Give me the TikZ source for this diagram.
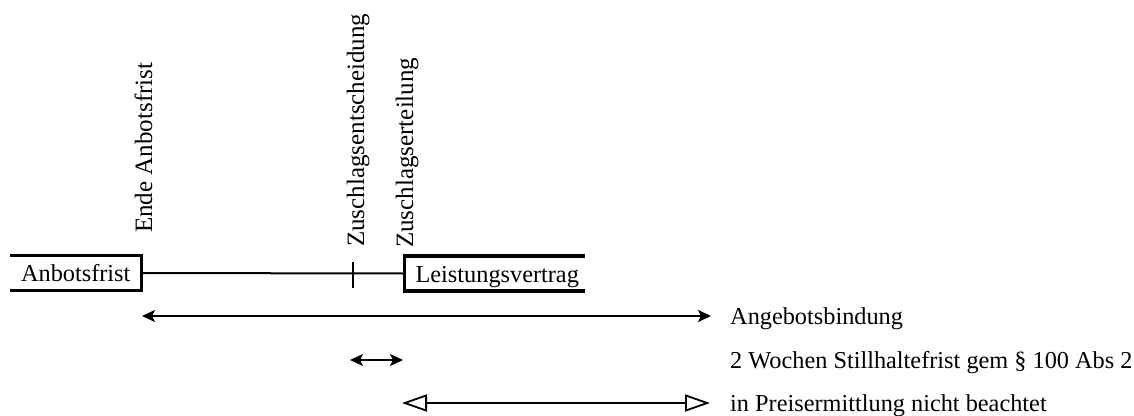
\documentclass[tikz,border=0pt]{standalone}
\usepackage{fontspec}
\setmainfont{Liberation Serif}
\usetikzlibrary{arrows.meta,calc}
\begin{document}
\begin{tikzpicture}[x=1pt,y=-1pt,
  every node/.style={font=\fontsize{24.3}{28}\selectfont},
  frame/.style={line width=3.5pt, line join=miter},
  timeline/.style={line width=2pt},
  solidtip/.tip={Stealth[length=13pt,width=12pt,inset=3pt]},
  opentip/.tip={Triangle[open,length=25pt,width=17pt]},
  span/.style={line width=1.8pt, solidtip-solidtip},
  openspan/.style={line width=1.8pt, opentip-opentip},
  mark label/.style={rotate=90, anchor=base west, inner sep=0pt, font=\fontsize{25}{29}\selectfont},
  legend/.style={anchor=west, inner sep=0pt, text height=16pt, text depth=0pt},
  phase/.style={inner sep=0pt, text height=17pt, text depth=0pt, minimum height=35pt}
]
\useasboundingbox (0,0) rectangle (1134,415);

% phases on the time line
\node[phase, minimum width=131.5pt] (anbot) at (75.75,273) {Anbotsfrist};
\node[phase, minimum width=180.5pt] (leist) at (494.75,273.5) {\hspace*{5pt}Leistungsvertrag};

\draw[frame] (anbot.north west) -- (anbot.north east) -- (anbot.south east) -- (anbot.south west);
\draw[frame] (leist.north east) -- (leist.north west) -- (leist.south west) -- (leist.south east);

% time line between the phases, with the decision mark
\draw[timeline] (anbot.east) -- (leist.west);
\coordinate (dec) at (353,273);
\draw[timeline] ($(dec)+(0,-11)$) -- ($(dec)+(0,15)$);

% event labels
\node[mark label] (ende) at (152,233) {Ende Anbotsfrist};
\node[mark label] (zent) at (364,247) {Zuschlagsentscheidung};
\node[mark label] (zert) at (413,248) {Zuschlagserteilung};

% periods
\coordinate (bindL) at (142,316);
\coordinate (bindR) at (711,316);
\coordinate (stillL) at (350,360);
\coordinate (stillR) at (403,360);
\coordinate (preisL) at (402,403);
\coordinate (preisR) at (710,403);

\draw[span] (bindL) -- (bindR);
\draw[span] (stillL) -- (stillR);
\draw[openspan] (preisL) -- (preisR);

\node[legend] (bindT) at (730,316) {Angebotsbindung};
\node[legend] (stillT) at (730,360) {2 Wochen Stillhaltefrist gem § 100 Abs 2};
\node[legend] (preisT) at (730,403) {in Preisermittlung nicht beachtet};
\end{tikzpicture}
\end{document}
